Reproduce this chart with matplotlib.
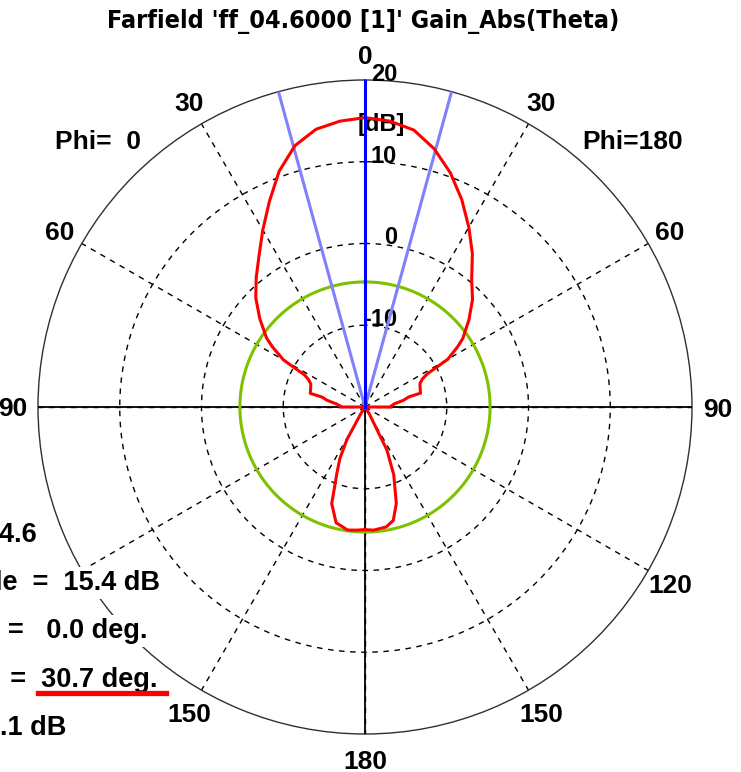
import numpy as np
import matplotlib
matplotlib.use('Agg')
import matplotlib.pyplot as plt
from matplotlib.transforms import offset_copy
from matplotlib.lines import Line2D

plt.rcParams['font.family'] = ['Liberation Sans', 'DejaVu Sans']
plt.rcParams['font.weight'] = 'bold'

# farfield cut, gain in dB vs theta (deg)
theta_phi0 = [0, 5, 10, 15, 20, 25, 30, 35, 40, 45, 50, 55, 57, 60, 61, 62, 64, 67, 72, 76,
              77, 80, 84, 88, 90, 92, 120, 146, 148, 151, 154, 157, 161, 166, 172, 176, 180]
gain_phi0 = [15.4, 15.1, 14.5, 13.1, 10.7, 7.7, 5.0, 2.6, 0.7, -1.1, -3.2, -5.3, -6.5, -8.5, -10.2, -11.6,
             -12.3, -12.8, -13.0, -13.1, -14.6, -15.3, -16.5, -17.0, -17.0, -25.0, -30.0, -22.0, -19.0,
             -15.4, -13.0, -11.2, -7.5, -5.4, -4.8, -4.9, -5.0]
theta_phi180 = [0, 5, 10, 15, 20, 25, 30, 35, 40, 45, 50, 55, 57, 60, 61, 62, 64, 67, 72, 76,
                77, 80, 84, 88, 90, 92, 120, 146, 148, 153, 157, 162, 166, 170, 176, 180]
gain_phi180 = [15.4, 15.1, 14.4, 12.7, 10.5, 8.0, 5.4, 2.9, 0.3, -1.4, -3.4, -5.4, -6.5, -8.3, -10.0, -11.4,
               -12.2, -12.7, -12.9, -13.0, -14.5, -15.2, -16.4, -16.8, -16.8, -25.0, -30.0, -22.0, -19.0,
               -14.1, -11.0, -7.6, -5.7, -5.1, -4.9, -5.0]

main_lobe_dir = 0.0
beam_width = 30.7
side_lobe_db = -4.7  # main lobe 15.4 dB - 20.1 dB
r_min, r_max = -20, 20
r_ticks = [-10, 0, 10]
r_tick_labels = ['-10', '0', '10', '20']
theta_ticks = [0, 30, 60, 90, 120, 150, 180, 210, 240, 270, 300, 330]
# left 120 sits under the info block
theta_labels = ['0', '30', '60', '90', '', '150', '180', '150', '120', '90', '60', '30']
info_lines = ['Frequency = 4.6',
              'Main lobe magnitude  =  15.4 dB',
              'Main lobe direction  =   0.0 deg.',
              'Angular width (3 dB)  =  30.7 deg.',
              'Side lobe level = -20.1 dB']

W, H = 741, 772
fig = plt.figure(figsize=(W / 100, H / 100), dpi=100)
cx, cy, R = 365, 407, 327
ax = fig.add_axes([(cx - R) / W, (H - cy - R) / H, 2 * R / W, 2 * R / H], projection='polar')
ax.set_theta_zero_location('N')
ax.set_theta_direction(1)
ax.set_rlim(r_min, r_max)
ax.set_rticks(r_ticks)
ax.set_yticklabels([])
ax.set_thetagrids(theta_ticks, labels=[''] * len(theta_ticks))
ax.grid(True, color='black', linestyle=(0, (4, 4)), linewidth=1.0)
ax.spines['polar'].set_linewidth(1.0)
ax.spines['polar'].set_color('#303030')

# main axes
for a in [0, 90, 180, 270]:
    ax.plot([np.deg2rad(a)] * 2, [r_min, r_max], color='black', lw=1.3, zorder=3)

# green side lobe circle
circ = np.linspace(0, 2 * np.pi, 361)
ax.plot(circ, np.full_like(circ, side_lobe_db), color='#80c000', lw=2.2, zorder=4)

# beam width lines
for s in (-1, 1):
    ax.plot([np.deg2rad(main_lobe_dir + s * beam_width / 2)] * 2, [r_min, r_max],
            color='#8080ff', lw=2.2, zorder=5)
ax.plot([np.deg2rad(main_lobe_dir)] * 2, [r_min, r_max], color='#0000ff', lw=2.2, zorder=6)

# pattern (phi=0 to the left, phi=180 to the right)
ax.plot(np.deg2rad(theta_phi0), np.clip(gain_phi0, r_min, None), color='#ff0000', lw=2.2, zorder=5)
ax.plot(-np.deg2rad(theta_phi180), np.clip(gain_phi180, r_min, None), color='#ff0000', lw=2.2, zorder=5)

# theta labels
for a, lab in zip(theta_ticks, theta_labels):
    if lab:
        ax.text(np.deg2rad(a), 23.1, lab, ha='center', va='center_baseline', fontsize=19,
                clip_on=False, zorder=7)
ax.text(np.deg2rad(45), 26.2, 'Phi=  0', ha='center', va='center_baseline', fontsize=19, clip_on=False)
ax.text(np.deg2rad(-45), 26.2, 'Phi=180', ha='center', va='center_baseline', fontsize=19, clip_on=False)

# radius labels
rtrans = offset_copy(ax.transData, fig=fig, x=32, y=8, units='dots')
for r, lab in zip(r_ticks + [r_max], r_tick_labels):
    ax.text(0, r, lab, transform=rtrans, ha='right', va='center_baseline', fontsize=17, zorder=4,
            clip_on=False)
ax.text(0, 14.9, '[dB]', transform=offset_copy(ax.transData, fig=fig, x=40, y=0, units='dots'),
        ha='right', va='center_baseline', fontsize=17, zorder=4)

fig.text(363 / W, 1 - 28 / H, "Farfield 'ff_04.6000 [1]' Gain_Abs(Theta)", ha='center', va='baseline',
         fontsize=18, family='DejaVu Sans', fontstretch='condensed', fontweight='bold')

# info block at lower left, partly outside the figure
right_ends = [37, 160, 148, 158, 66]
baselines = [542, 590, 638, 687, 735]
for s, xr, yb in zip(info_lines, right_ends, baselines):
    fig.text(xr / W, 1 - yb / H, s, ha='right', va='baseline', fontsize=19.5, zorder=10,
             bbox=dict(facecolor='white', edgecolor='none', pad=2))
fig.add_artist(Line2D([38 / W, 166 / W], [1 - 693 / H] * 2, color='#ff0000', lw=3.8, zorder=11))

fig.savefig('out.png', dpi=100)
